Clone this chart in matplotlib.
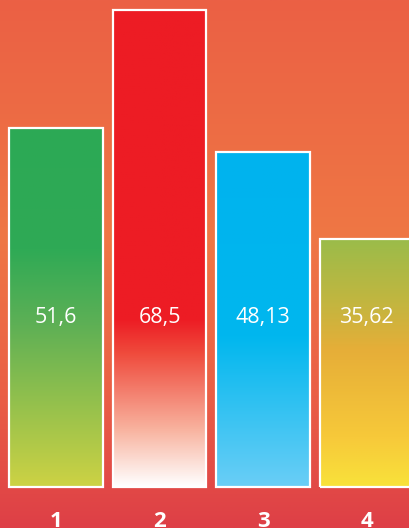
import numpy as np
import matplotlib
matplotlib.use('Agg')
import matplotlib.pyplot as plt
from matplotlib.colors import LinearSegmentedColormap, to_rgb

# data
categories = ['1', '2', '3', '4']
values = [51.6, 68.5, 48.13, 35.62]
value_labels = ['51,6', '68,5', '48,13', '35,62']

# gradient stops per bar (position from top 0 -> bottom 1)
bar_gradients = [
    [(0.0, '#2CA955'), (0.34, '#2FAA55'), (0.55, '#5EB055'), (1.0, '#CDD244')],
    [(0.0, '#ED1C24'), (0.65, '#ED1C24'), (0.72, '#EF4A3C'), (0.88, '#F8B29E'), (1.0, '#FFFFFF')],
    [(0.0, '#00B3EE'), (0.55, '#00B7EE'), (1.0, '#6ACEF6')],
    [(0.0, '#9ABC4A'), (0.25, '#C1B640'), (0.45, '#E6AE38'), (0.8, '#F7C93A'), (1.0, '#F9E23A')],
]
bg_stops = [(0.0, '#EB6045'), (0.45, '#EF7744'), (0.75, '#EA5F46'), (1.0, '#DE3F46')]


def gradient_image(stops, n=256):
    cmap = LinearSegmentedColormap.from_list('g', [(p, to_rgb(c)) for p, c in stops])
    col = cmap(np.linspace(0, 1, n))[:, :3]
    return col[:, None, :]


fig = plt.figure(figsize=(4.1, 5.28), dpi=100)
ax = fig.add_axes([0, 0, 1, 1])

x = np.arange(1, len(values) + 1)
xlim = (0.459, 4.42)
ylim = (-5.89, 69.93)
width = 0.905

# background
ax.imshow(gradient_image(bg_stops), extent=[xlim[0], xlim[1], ylim[0], ylim[1]],
          aspect='auto', origin='upper', zorder=0)

for xi, v, stops, lab, cat in zip(x, values, bar_gradients, value_labels, categories):
    ax.imshow(gradient_image(stops), extent=[xi - width / 2, xi + width / 2, 0, v],
              aspect='auto', origin='upper', zorder=1)
    ax.bar(xi, v, width=width, facecolor='none', edgecolor='white', linewidth=1.6, zorder=2)
    ax.text(xi, 24.4, lab, ha='center', va='center', color='white',
            fontsize=15.5, family='Open Sans', zorder=3)
    ax.text(xi, -5.0, cat, ha='center', va='center', color='white',
            fontsize=16, fontweight='bold', family='Open Sans', zorder=3)

ax.set_xlim(*xlim)
ax.set_ylim(*ylim)
ax.axis('off')

fig.savefig('out.png', dpi=100)
